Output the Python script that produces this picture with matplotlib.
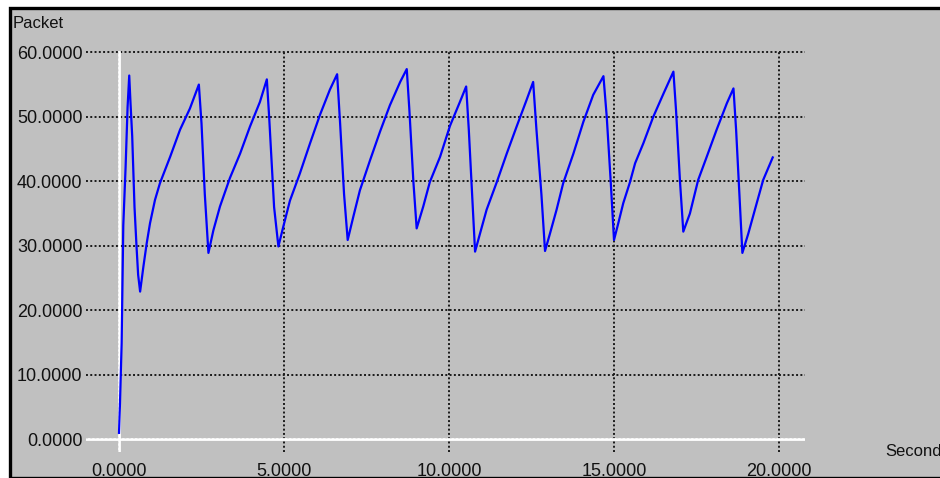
import matplotlib
matplotlib.use("Agg")
import matplotlib.pyplot as plt
from matplotlib.patches import Rectangle

# ---- data ----
time_s = [0.00, 0.03, 0.08, 0.13, 0.20, 0.26, 0.31,
          0.35, 0.40, 0.47, 0.53, 0.58, 0.64,
          0.74, 0.84, 0.94, 1.09, 1.24, 1.55, 1.85, 2.15, 2.42,
          2.50, 2.60, 2.71,
          2.86, 3.06, 3.36, 3.67, 3.97, 4.27, 4.48,
          4.55, 4.70, 4.83,
          4.98, 5.18, 5.48, 5.79, 6.09, 6.39, 6.61,
          6.70, 6.82, 6.93,
          7.10, 7.30, 7.61, 7.91, 8.21, 8.52, 8.72,
          8.80, 8.92, 9.02,
          9.22, 9.42, 9.73, 10.03, 10.33, 10.52,
          10.60, 10.70, 10.79,
          10.94, 11.14, 11.45, 11.75, 12.05, 12.35, 12.55,
          12.65, 12.80, 12.91,
          13.06, 13.26, 13.46, 13.77, 14.07, 14.37, 14.68,
          14.78, 14.90, 15.00,
          15.13, 15.28, 15.48, 15.64, 15.89, 16.19, 16.50, 16.80,
          16.88, 17.00, 17.10,
          17.30, 17.55, 17.81, 18.11, 18.42, 18.62,
          18.70, 18.80, 18.89,
          19.07, 19.27, 19.52, 19.81]
packets = [1.0, 5.6, 14.9, 33.2, 42.2, 51.5, 56.4,
           52.0, 47.0, 36.0, 30.0, 25.5, 22.9,
           26.8, 30.4, 33.5, 37.1, 39.7, 43.8, 48.0, 51.3, 55.0,
           49.0, 38.0, 28.9,
           32.4, 36.1, 40.5, 44.3, 48.5, 52.3, 55.8,
           50.0, 36.0, 29.9,
           33.0, 37.0, 41.2, 45.9, 50.3, 54.2, 56.6,
           49.0, 38.0, 30.9,
           34.5, 38.6, 43.3, 47.7, 51.8, 55.4, 57.4,
           51.0, 40.0, 32.7,
           36.1, 39.9, 43.8, 48.6, 52.3, 54.7,
           48.0, 38.0, 29.1,
           31.9, 35.6, 39.9, 44.3, 48.5, 52.6, 55.4,
           48.0, 38.0, 29.2,
           31.9, 35.6, 39.7, 44.3, 49.2, 53.4, 56.3,
           50.0, 40.0, 30.9,
           33.5, 36.6, 39.8, 42.8, 45.9, 50.0, 53.6, 57.0,
           51.0, 40.0, 32.2,
           35.0, 40.2, 43.8, 48.0, 52.1, 54.4,
           48.0, 38.0, 28.9,
           31.9, 35.6, 40.2, 43.7]

x_ticks = [0, 5, 10, 15, 20]
y_ticks = [0, 10, 20, 30, 40, 50, 60]
y_label = "Packet"
x_label = "Seconds"

# ---- figure ----
W, H = 940, 478
fig = plt.figure(figsize=(W / 100, H / 100), dpi=100, facecolor="white")
gray = "#C0C0C0"

# framed gray panel
fig.add_artist(Rectangle((10 / W, 0.5 / H), (W + 20) / W, (H - 8) / H,
                         transform=fig.transFigure, facecolor=gray,
                         edgecolor="black", linewidth=2.4, zorder=0))

xmin, xmax = -1.0, 20.8
ymin, ymax = -2.0, 60.3
px_per_x = 33.0
px_per_y = 6.45
left_px = 119.0 + xmin * px_per_x
right_px = 119.0 + xmax * px_per_x
bottom_px = 439.3 - ymin * px_per_y
top_px = 439.3 - ymax * px_per_y
ax = fig.add_axes([left_px / W, 1 - bottom_px / H,
                   (right_px - left_px) / W, (bottom_px - top_px) / H])
ax.set_facecolor("none")
ax.set_xlim(xmin, xmax)
ax.set_ylim(ymin, ymax)
for s in ax.spines.values():
    s.set_visible(False)

ax.set_xticks(x_ticks)
ax.set_yticks(y_ticks)
ax.set_xticklabels([f"{v:.4f}" for v in x_ticks])
ax.set_yticklabels([f"{v:.4f}" for v in y_ticks])
ax.tick_params(axis="both", length=0, labelsize=13, colors="#111111")
ax.tick_params(axis="y", pad=2.5)
ax.tick_params(axis="x", pad=7.5)
for lab in ax.get_xticklabels() + ax.get_yticklabels():
    lab.set_family("Liberation Sans")

ax.grid(True, color="#1a1a1a", linestyle=(0, (1, 1.2)), linewidth=1.4, zorder=1)

# white axes lines
ax.axhline(0, color="white", linewidth=2, zorder=2)
ax.plot([0, 0], [ymin, 60], color="white", linewidth=2, zorder=2)

ax.plot(time_s, packets, color="#0000FF", linewidth=1.6, zorder=3)

fig.text(13 / W, 1 - 23 / H, y_label, fontsize=12, family="Liberation Sans",
         va="center", ha="left", color="#111111")
fig.text(885 / W, 1 - 452 / H, x_label, fontsize=12, family="Liberation Sans",
         va="center", ha="left", color="#111111")

fig.savefig("out.png", dpi=100, facecolor="white")
